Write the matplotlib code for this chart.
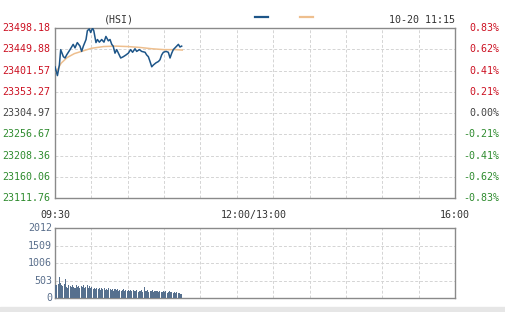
import matplotlib
matplotlib.use("Agg")
import matplotlib.pyplot as plt
import numpy as np

# ---------------- data ----------------
price_ticks = [23111.76, 23160.06, 23208.36, 23256.67, 23304.97, 23353.27, 23401.57, 23449.88, 23498.18]
pct_ticks = ["-0.83%", "-0.62%", "-0.41%", "-0.21%", "0.00%", "0.21%", "0.41%", "0.62%", "0.83%"]
prev_close = 23304.97
vol_ticks = [0, 503, 1006, 1509, 2012]
time_labels = ["09:30", "12:00/13:00", "16:00"]

price_min = [0, 2, 3.6, 4.7, 5.8, 6.9, 8.3, 9.6, 12.4, 15, 16.5, 18.4, 20.6, 22, 23.4, 25.6, 26.7,
             28.3, 29.4, 31, 32, 33.8, 35, 36.6, 38.5, 40.4, 42, 44, 45.4, 46.8, 48, 49.5, 50.9,
             52.3, 54.2, 56.4, 58.6, 60.5, 62.4, 64, 66, 67.4, 69.6, 71.5, 74.3, 75.6, 77, 78.4,
             79.8, 81.1, 83.3, 85.3, 86.6, 88, 89.4, 91.6, 93.5, 94.9, 96.3, 97.6, 99, 100.4,
             101.8, 103.1, 104.5]
price_val = [23410, 23390, 23414, 23449, 23441, 23433, 23430, 23437, 23449, 23461, 23453, 23465,
             23457, 23445, 23457, 23472, 23492, 23496, 23488, 23498, 23492, 23465, 23472, 23466,
             23472, 23466, 23479, 23469, 23472, 23461, 23457, 23441, 23449, 23441, 23430, 23433,
             23437, 23441, 23449, 23443, 23451, 23445, 23449, 23445, 23443, 23437, 23433, 23422,
             23410, 23414, 23419, 23422, 23426, 23437, 23443, 23445, 23443, 23430, 23441, 23449,
             23453, 23457, 23461, 23455, 23457]

avg_min = [1, 5, 10, 16, 23, 30, 40, 50, 60, 70, 80, 90, 100, 105]
avg_val = [23398, 23418, 23431, 23440, 23446, 23452, 23456, 23457, 23456, 23454, 23451, 23449, 23449, 23448]

volume = [380, 360, 400, 590, 420, 380, 350, 400, 540, 330,
          300, 360, 340, 310, 380, 330, 300, 360, 320, 350,
          300, 340, 310, 360, 290, 330, 370, 300, 340, 280,
          320, 270, 300, 250, 290, 260, 300, 240, 280, 250,
          300, 240, 270, 220, 280, 250, 230, 270, 210, 250,
          230, 260, 210, 240, 200, 230, 250, 200, 230, 210,
          240, 190, 220, 200, 230, 190, 210, 240, 180, 210,
          200, 220, 180, 310, 200, 190, 230, 180, 210, 190,
          220, 170, 200, 190, 210, 160, 200, 180, 170, 210,
          160, 190, 150, 180, 200, 160, 180, 150, 170, 140,
          160, 130, 150, 120, 110]

# ---------------- layout ----------------
W, H = 505, 312
fig = plt.figure(figsize=(W / 100, H / 100), dpi=100)
fig.patch.set_facecolor("white")
mono = "DejaVu Sans Mono"
fs = 7.2

def px_rect(l, t, r, b):
    return [l / W, 1 - b / H, (r - l) / W, (b - t) / H]

TOTAL = 330
ax = fig.add_axes(px_rect(55, 28, 455, 198))
axv = fig.add_axes(px_rect(55, 228, 455, 298))

grid_kw = dict(color="#d4d4d4", linestyle=(0, (3, 2)), linewidth=0.7)
for a in (ax, axv):
    a.set_xlim(0, TOTAL)
    a.set_xticks(np.arange(0, TOTAL + 1, 30))
    a.grid(True, **grid_kw)
    a.tick_params(length=0, labelbottom=False, labelleft=False)
    for s in a.spines.values():
        s.set_color("#8a8a8a")
        s.set_linewidth(1.0)
    a.set_axisbelow(True)

ax.set_ylim(price_ticks[0], price_ticks[-1])
ax.set_yticks(price_ticks)
axv.set_ylim(0, vol_ticks[-1])
axv.set_yticks(vol_ticks)

ax.plot(avg_min, avg_val, color="#eebf8e", linewidth=1.1, zorder=3)
ax.plot(price_min, price_val, color="#1d5588", linewidth=1.1, zorder=4)

axv.bar(np.arange(len(volume)) + 0.5, volume, width=0.85, color="#56708e", zorder=3)

# price labels
for i, (p, pc) in enumerate(zip(price_ticks, pct_ticks)):
    if p > prev_close + 1:
        col = "#cc1122"
    elif p < prev_close - 1:
        col = "#2e8b2e"
    else:
        col = "#444444"
    y = (p - price_ticks[0]) / (price_ticks[-1] - price_ticks[0])
    ax.text(-5 / 400, y, f"{p:.2f}", transform=ax.transAxes, ha="right", va="center",
            fontsize=fs, family=mono, color=col)
    ax.text(1 + 44 / 400, y, pc, transform=ax.transAxes, ha="right", va="center",
            fontsize=fs, family=mono, color=col)

for v in vol_ticks:
    y = v / vol_ticks[-1]
    axv.text(-3 / 400, y, str(v), transform=axv.transAxes, ha="right", va="center",
             fontsize=fs, family=mono, color="#5a6f8c")

# time labels
tx = [0, 199 / 400, 1]
for lab, x in zip(time_labels, tx):
    fig.text((55 + x * 400) / W, 1 - 215 / H, lab, ha="center", va="center",
             fontsize=fs, family=mono, color="#333333")

# header
fig.text(119 / W, 1 - 20 / H, "(HSI)", ha="center", va="center", fontsize=fs, family=mono, color="#333333")
fig.text(455 / W, 1 - 20 / H, "10-20 11:15", ha="right", va="center", fontsize=fs, family=mono, color="#333333")
fig.add_artist(plt.Line2D([255 / W, 268 / W], [1 - 17 / H] * 2, color="#1d5588", linewidth=1.6))
fig.add_artist(plt.Line2D([300 / W, 313 / W], [1 - 17 / H] * 2, color="#eebf8e", linewidth=1.6))

# bottom strip
fig.add_artist(plt.Rectangle((0, 0), 1, 5 / H, transform=fig.transFigure, color="#e6e6e6", zorder=0))

fig.savefig("out.png", dpi=100)
